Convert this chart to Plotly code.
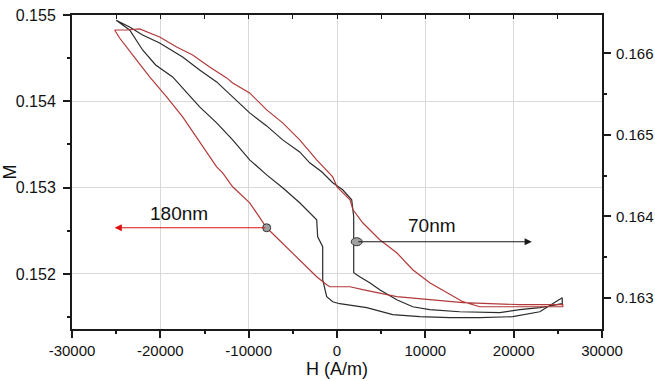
import plotly.graph_objects as go

# ---- data ----
# 70nm sample (black, left axis M)
h_black_up = [-25000, -23477, -22005, -20080, -17475, -15550, -13625, -11813, -9887, -7962,
              -6150, -4225, -3092, -1733, -487, 645, 1665, 1892, 1892, 2571, 3704, 4836,
              6761, 8573, 10499, 13896, 18426, 20691, 22956, 25500]
m_black_up = [0.15494, 0.154861, 0.154769, 0.154676, 0.154514, 0.154363, 0.154225, 0.154051,
              0.153866, 0.153715, 0.153553, 0.153414, 0.153287, 0.153183, 0.153056, 0.152975,
              0.152859, 0.152662, 0.152014, 0.151968, 0.151898, 0.151817, 0.151701, 0.15162,
              0.151586, 0.151562, 0.151551, 0.151586, 0.151609, 0.151655]
h_black_dn = [25500, 22956, 19898, 16161, 12764, 9366, 6308, 3364, 306, -487, -1166, -1619,
              -1619, -2186, -2299, -4225, -6150, -7962, -9887, -11813, -13625, -15550,
              -17022, -18608, -20533, -22005, -23477, -25000]
m_black_dn = [0.151725, 0.151562, 0.151505, 0.151493, 0.151493, 0.151505, 0.151528, 0.151609,
              0.151655, 0.151678, 0.151736, 0.151933, 0.152315, 0.152431, 0.152627, 0.152824,
              0.152998, 0.153148, 0.153322, 0.153553, 0.15375, 0.153935, 0.154097, 0.154282,
              0.154421, 0.154595, 0.154826, 0.15494]

# 180nm sample (red, right axis)
h_red_up = [-25176, -23817, -22345, -20080, -18155, -16343, -14418, -12492, -11813, -9887,
            -7962, -6150, -4225, -2299, -487, 0, 1472, 1812, 2911, 4836, 6761, 8573, 10499,
            12424, 14236, 16161, 20691, 25561]
r_red_up = [0.166285, 0.166285, 0.166298, 0.1662, 0.166077, 0.165979, 0.165832, 0.165698,
            0.165636, 0.165514, 0.165306, 0.165147, 0.164938, 0.164693, 0.164485, 0.164363,
            0.164204, 0.164081, 0.163922, 0.163714, 0.163555, 0.163347, 0.163187, 0.163065,
            0.162955, 0.162893, 0.162893, 0.162893]
h_red_dn = [25561, 20691, 14236, 10499, 6761, 2911, 1472, -827, -1166, -2299, -4225, -6150,
            -7962, -9887, -11813, -12945, -13625, -15550, -17475, -19287, -21212, -23137,
            -24609, -25176]
r_red_dn = [0.162918, 0.162918, 0.162943, 0.162979, 0.163016, 0.163102, 0.163138, 0.163138,
            0.163163, 0.163261, 0.163469, 0.163677, 0.163861, 0.164167, 0.164363, 0.164534,
            0.164608, 0.164914, 0.16522, 0.165465, 0.16571, 0.165979, 0.166187, 0.166285]

x_tick_vals = [-30000, -20000, -10000, 0, 10000, 20000, 30000]
x_tick_text = ["-30000", "-20000", "-10000", "0", "10000", "20000", "30000"]

BLACK = "#2b2b2b"
RED = "#b23a3a"
FONT = "Liberation Sans, Arial, sans-serif"

fig = go.Figure()
fig.add_trace(go.Scatter(x=h_black_up + h_black_dn, y=m_black_up + m_black_dn, mode="lines",
                         line=dict(color=BLACK, width=1.2), yaxis="y", showlegend=False))
fig.add_trace(go.Scatter(x=h_red_up + h_red_dn, y=r_red_up + r_red_dn, mode="lines",
                         line=dict(color=RED, width=1.2), yaxis="y2", showlegend=False))
# invisible trace so that the top (mirror) axis is drawn
fig.add_trace(go.Scatter(x=[None], y=[None], xaxis="x2", yaxis="y", showlegend=False,
                         hoverinfo="skip"))

axis_common = dict(showline=True, linecolor="#1a1a1a", linewidth=2, ticks="outside",
                   tickcolor="#1a1a1a", tickwidth=1.5, ticklen=7, automargin=False,
                   zeroline=False)

fig.update_layout(
    width=655, height=381,
    margin=dict(l=72, r=53, t=15, b=52),
    paper_bgcolor="white", plot_bgcolor="white",
    font=dict(family=FONT, color="#111"),
    xaxis=dict(range=[-30000, 30000], tickmode="array", tickvals=x_tick_vals,
               ticktext=x_tick_text, showgrid=True, gridcolor="#d9d9d9", gridwidth=1,
               tickfont=dict(family=FONT, size=15, color="#111"),
               minor=dict(dtick=5000, tick0=0, ticks="outside", ticklen=3,
                          tickcolor="#1a1a1a", showgrid=False),
               title=dict(text="H (A/m)", font=dict(family=FONT, size=18), standoff=4),
               **axis_common),
    xaxis2=dict(range=[-30000, 30000], overlaying="x", side="top", anchor="y",
                showline=True, linecolor="#1a1a1a", linewidth=2, ticks="inside",
                tickcolor="#1a1a1a", ticklen=4, dtick=5000, tick0=0, showticklabels=False,
                showgrid=False, zeroline=False, automargin=False),
    yaxis=dict(range=[0.151362, 0.155], dtick=0.001, tick0=0.15, tickformat=".3f",
               showgrid=True, gridcolor="#d9d9d9", gridwidth=1, ticklabelstandoff=4,
               tickfont=dict(family=FONT, size=16, color="#111"),
               minor=dict(dtick=0.0005, ticks="outside", ticklen=3, tickcolor="#1a1a1a", showgrid=False),
               title=dict(text="M", font=dict(family=FONT, size=18), standoff=1),
               **axis_common),
    yaxis2=dict(range=[0.16262, 0.166469], dtick=0.001, tick0=0.16, tickformat=".3f",
                overlaying="y", side="right", anchor="x", showgrid=False, ticklabelstandoff=2,
                tickfont=dict(family=FONT, size=15, color="#111"),
                minor=dict(dtick=0.0005, ticks="outside", ticklen=3, tickcolor="#1a1a1a", showgrid=False),
                **axis_common),
)

# annotations: labels and arrows
fig.add_annotation(x=-17927, y=0.152697, xref="x", yref="y", text="180nm", showarrow=False,
                   font=dict(family=FONT, size=19, color="#111"))
fig.add_annotation(x=10703, y=0.152558, xref="x", yref="y", text="70nm", showarrow=False,
                   font=dict(family=FONT, size=19, color="#111"))
fig.add_annotation(x=-25176, y=0.152535, ax=-7962, ay=0.152535, xref="x", yref="y",
                   axref="x", ayref="y", text="", showarrow=True, arrowhead=2,
                   arrowsize=1.2, arrowwidth=1.2, arrowcolor="#e01010")
fig.add_annotation(x=22053, y=0.152373, ax=2231, ay=0.152373, xref="x", yref="y",
                   axref="x", ayref="y", text="", showarrow=True, arrowhead=2,
                   arrowsize=1.2, arrowwidth=1.2, arrowcolor="#1a1a1a")
# markers on the curves
fig.add_shape(type="circle", xref="x", yref="y", xsizemode="pixel", ysizemode="pixel",
              xanchor=-7962, yanchor=0.152535, x0=-4, x1=4, y0=-4, y1=4,
              fillcolor="#a0a0a0", line=dict(color="#333", width=1))
fig.add_shape(type="circle", xref="x", yref="y", xsizemode="pixel", ysizemode="pixel",
              xanchor=2231, yanchor=0.152373, x0=-5.5, x1=5.5, y0=-4, y1=4,
              fillcolor="#a0a0a0", line=dict(color="#333", width=1))

fig.write_html("out.html", config={"displayModeBar": False},
               post_script="document.body.style.margin='0px';")
